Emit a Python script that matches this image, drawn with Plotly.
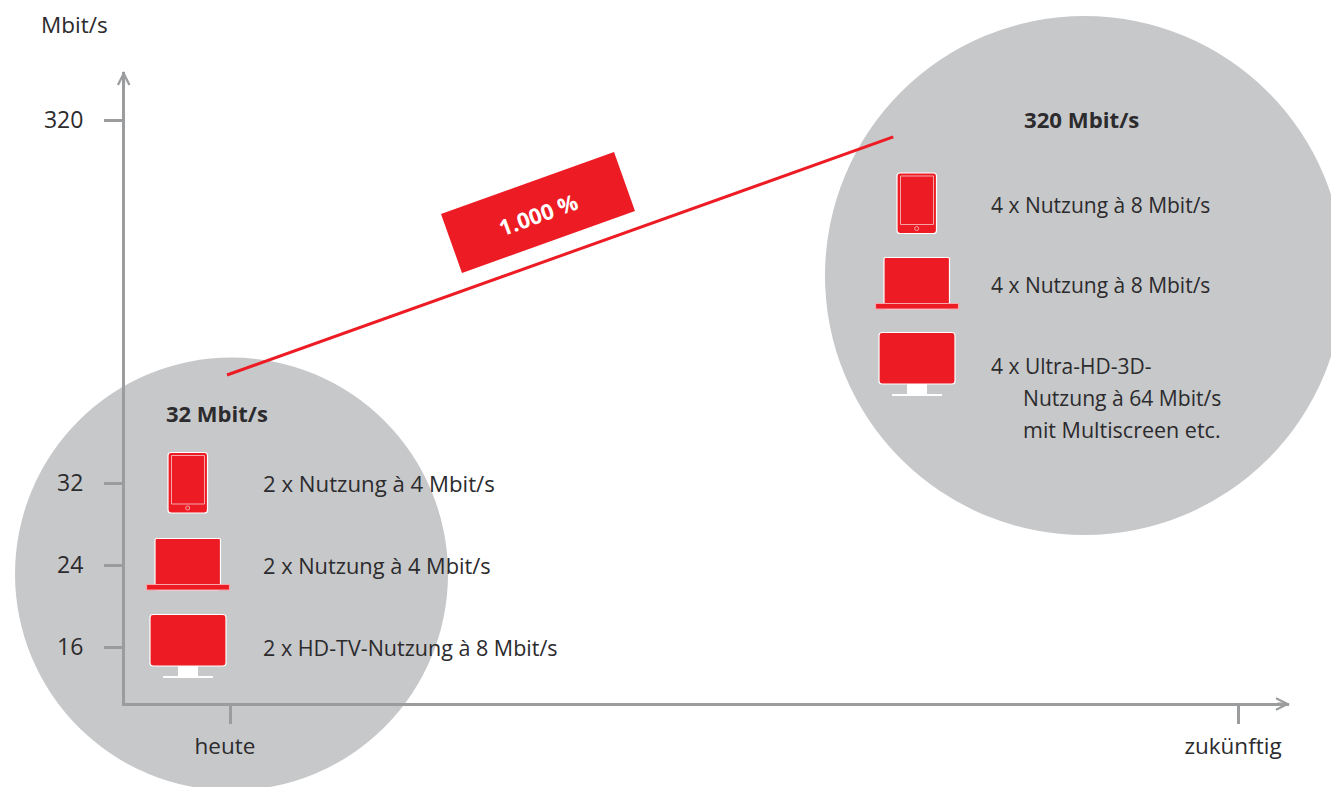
import plotly.graph_objects as go

# ---- data ----
y_tick_positions = [16, 24, 32, 67.41]      # 320 sits on a compressed part of the axis
y_tick_labels = ["16", "24", "32", "320"]
x_tick_positions = [0, 1]
x_tick_labels = ["heute", "zukünftig"]
trend_x = [-0.003, 0.658]
trend_y = [42.54, 65.76]
bubble_x = [0.0015, 0.8477]
bubble_y = [23.12, 52.24]
bubble_size = [433, 519]
y_title = "Mbit/s"
growth_label = "1.000 %"
today_head = "32 Mbit/s"
future_head = "320 Mbit/s"
today_rows = ["2 x Nutzung à 4 Mbit/s", "2 x Nutzung à 4 Mbit/s", "2 x HD-TV-Nutzung à 8 Mbit/s"]
future_rows = ["4 x Nutzung à 8 Mbit/s", "4 x Nutzung à 8 Mbit/s", "4 x Ultra-HD-3D-"]
future_extra = ["Nutzung à 64 Mbit/s", "mit Multiscreen etc."]

W, H = 1331, 787
RED = "#ed1c24"
GREY = "#c7c8ca"
AXIS = "#9b9c9e"
INK = "#2c2b2d"
PALE = "#f7a6a9"
FONT = "Open Sans"
TXT = 21


def px(x):
    return x / W


def py(y):
    return 1 - y / H


def path(cmds):
    """cmds: list of (letter, x, y...) in picture pixels -> SVG path in paper space."""
    out = []
    for c in cmds:
        if c[0] == "Z":
            out.append("Z")
            continue
        pts = c[1:]
        coords = []
        for i in range(0, len(pts), 2):
            coords.append(f"{px(pts[i]):.5f},{py(pts[i + 1]):.5f}")
        out.append(c[0] + " ".join(coords))
    return " ".join(out)


def rrect(x0, y0, x1, y1, r):
    return path([
        ("M", x0 + r, y0), ("L", x1 - r, y0), ("Q", x1, y0, x1, y0 + r),
        ("L", x1, y1 - r), ("Q", x1, y1, x1 - r, y1), ("L", x0 + r, y1),
        ("Q", x0, y1, x0, y1 - r), ("L", x0, y0 + r), ("Q", x0, y0, x0 + r, y0), ("Z",),
    ])


def sh(p, fill, line=None, lw=0):
    return dict(type="path", xref="paper", yref="paper", path=p, fillcolor=fill,
                line=dict(color=line or fill, width=lw), layer="above")


def rect(x0, y0, x1, y1):
    return path([("M", x0, y0), ("L", x1, y0), ("L", x1, y1), ("L", x0, y1), ("Z",)])


def icons(dx, tablet_dy, laptop_dy, monitor_dy):
    s = []
    # tablet
    d = tablet_dy
    s.append(sh(rrect(168 + dx, 452.5 + d, 207.5 + dx, 513 + d, 3), RED, "white", 1.2))
    s.append(sh(rect(171.5 + dx, 455.5 + d, 204.5 + dx, 504 + d), RED, PALE, 1))
    s.append(dict(type="circle", xref="paper", yref="paper",
                  x0=px(185.7 + dx), x1=px(189.7 + dx), y0=py(510 + d), y1=py(506 + d),
                  fillcolor=RED, line=dict(color=PALE, width=1), layer="above"))
    # laptop
    d = laptop_dy
    s.append(sh(rect(156.5 + dx, 590 + d, 219 + dx, 591 + d), "#e6e7e8"))
    s.append(sh(rrect(155 + dx, 538.5 + d, 220.5 + dx, 586 + d, 1.5), RED, "white", 1.2))
    s.append(sh(rect(146.5 + dx, 584.5 + d, 229.5 + dx, 590 + d), RED, PALE, 1.2))
    # monitor
    d = monitor_dy
    s.append(sh(rect(178 + dx, 666 + d, 198 + dx, 676 + d), "white"))
    s.append(sh(rect(163 + dx, 676 + d, 213 + dx, 678 + d), "white"))
    s.append(sh(rrect(150 + dx, 614.5 + d, 226 + dx, 666 + d, 3), RED, "white", 1.2))
    return s


fig = go.Figure()
fig.add_trace(go.Scatter(x=bubble_x, y=bubble_y, mode="markers", cliponaxis=False,
                         marker=dict(size=bubble_size, color=GREY, opacity=1, line=dict(width=0)),
                         hoverinfo="skip"))
fig.add_trace(go.Scatter(x=trend_x, y=trend_y, mode="lines", cliponaxis=False,
                         line=dict(color=RED, width=3), hoverinfo="skip"))

shapes = []
shapes += icons(0, 0, 0, 0)
shapes += icons(729, -279.5, -281, -282)
shapes.append(sh(path([("M", 441, 214), ("L", 614, 152), ("L", 635, 211), ("L", 462, 273), ("Z",)]), RED))


def label(text, x, y, anchor="left", size=TXT, color=INK, bold=False, angle=0):
    return dict(text=f"<b>{text}</b>" if bold else text, xref="paper", yref="paper",
                x=px(x), y=py(y), xanchor=anchor, yanchor="middle", showarrow=False,
                textangle=angle, font=dict(family=FONT, size=size, color=color))


def arrow(x, y, ax, ay):
    return dict(xref="paper", yref="paper", x=px(x), y=py(y), ax=ax, ay=ay, text="",
                showarrow=True, arrowhead=5, arrowsize=0.75, arrowwidth=3, arrowcolor=AXIS)


notes = [label(y_title, 74, 25, "center", size=22.5)]
notes.append(label(today_head, 217, 413, "center", bold=True, size=22))
notes.append(label(future_head, 1081, 120, "center", bold=True, size=22.2))
notes.append(label(growth_label, 538, 214, "center", color="white", bold=True, angle=-20, size=22))
for t, y, s in zip(today_rows, [484, 565, 647], [22.2, 21.8, 21.5]):
    notes.append(label(t, 261, y, size=s))
for t, y, s in zip(future_rows, [205, 285, 366], [21, 21, 21]):
    notes.append(label(t, 989, y, size=s))
for t, y, s in zip(future_extra, [398, 429.5], [21.1, 21.5]):
    notes.append(label(t, 1021, y, size=s))
notes.append(arrow(123.7, 71, 0, 14))
notes.append(arrow(1290, 704, -14, 0))

fig.update_layout(
    width=W, height=H, autosize=False,
    margin=dict(l=0, r=0, t=0, b=0, pad=0),
    paper_bgcolor="white", plot_bgcolor="rgba(0,0,0,0)",
    showlegend=False, shapes=shapes, annotations=notes,
    font=dict(family=FONT, size=TXT, color=INK),
    xaxis=dict(domain=[px(125), px(1289)], range=[(125 - 230) / 1008, (1289 - 230) / 1008],
               showgrid=False, zeroline=False, showline=True, linecolor=AXIS, linewidth=3,
               ticks="outside", ticklen=18, tickwidth=3, tickcolor=AXIS,
               tickmode="array", tickvals=x_tick_positions, ticktext=x_tick_labels,
               ticklabelstandoff=3, ticklabelshift=-5,
               tickfont=dict(family=FONT, size=22.5, color=INK)),
    yaxis=dict(domain=[1 - 703 / H, 1 - 72 / H], range=[16 - (703 - 647) / 10.25, 16 + (647 - 72) / 10.25],
               showgrid=False, zeroline=False, showline=True, linecolor=AXIS, linewidth=3,
               ticks="outside", ticklen=18, tickwidth=3, tickcolor=AXIS,
               tickmode="array", tickvals=y_tick_positions, ticktext=y_tick_labels,
               ticklabelstandoff=16,
               tickfont=dict(family=FONT, size=23, color=INK)),
)

fig.write_html("out.html", config=dict(displayModeBar=False), post_script="document.body.style.margin='0';")
